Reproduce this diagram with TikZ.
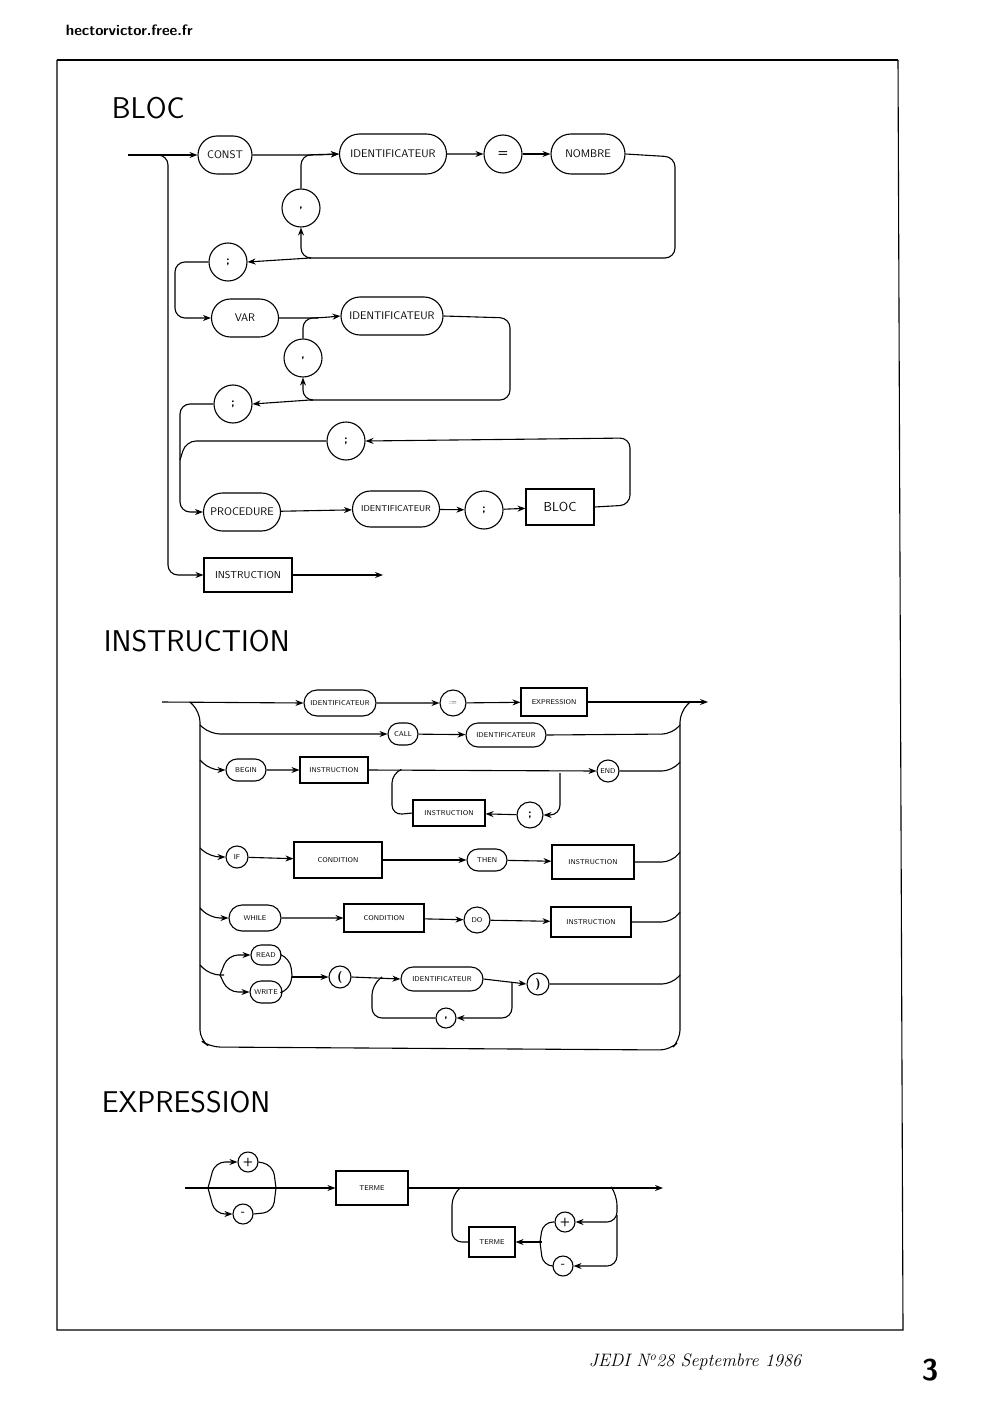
\documentclass[tikz,border=0pt]{standalone}
\usetikzlibrary{shapes.misc,arrows.meta}
\begin{document}
\begin{tikzpicture}[x=1pt,y=-1pt,line width=1.1pt,
 rr/.style={draw,rounded rectangle,minimum height=#1,inner xsep=4pt,font=\sffamily\fontsize{11}{11}\selectfont},
 rr/.default=38,
 bx/.style={draw,rectangle,minimum height=#1,inner xsep=5pt,font=\sffamily\fontsize{10}{10}\selectfont},
 bx/.default=34,
 ci/.style={draw,circle,minimum size=#1,inner sep=0pt,font=\sffamily\bfseries\fontsize{12}{12}\selectfont},
 ci/.default=38,
 ar/.style={-{Stealth[length=8pt,width=6pt]}},
 rc/.style={rounded corners=10pt},
 ttl/.style={anchor=west,font=\sffamily\fontsize{30}{30}\selectfont}]
\useasboundingbox (0,0) rectangle (981,1404);
\fill[white] (0,0) rectangle (981,1404);
\node[anchor=west,font=\sffamily\bfseries\fontsize{15}{15}\selectfont] (hdr) at (62,30) {hectorvictor.free.fr};
\draw[line width=2.5pt] (57,60) -- (898,60);
\draw (57,60) -- (57,1330) -- (903,1330) -- (898,60);
\node[anchor=west,font=\rmfamily\itshape\fontsize{18}{18}\selectfont] (ftr) at (585,1362) {JEDI N\textsuperscript{o}28 Septembre 1986};
\node[font=\sffamily\bfseries\fontsize{30}{30}\selectfont] (pg) at (930,1370) {3};

% ---------------- BLOC
\node[ttl] (t1) at (108,108) {BLOC};
\node[rr,minimum width=62] (const) at (225,155) {CONST};
\node[rr=40,minimum width=115] (id1) at (393,154) {IDENTIFICATEUR};
\node[ci] (eq) at (503,154) {=};
\node[rr=40,minimum width=82] (nomb) at (588,154) {NOMBRE};
\node[ci] (c1) at (301,208) {,};
\node[ci] (s1) at (228,262) {;};
\coordinate (start) at (128,155);
\draw[ar] (start) -- (const);
\draw[ar,rc] (const.east) -- (318,155) -- (id1.west);
\draw[ar] (id1) -- (eq);
\draw[ar] (eq) -- (nomb);
\draw[rc] (nomb.east) -- (675,157) -- (675,258) -- (310,258);
\draw[ar] (310,258) -- (s1.east);
\draw[ar,rc] (310,258) -- (301,258) -- (c1.south) ;
\draw[ar,rc] (c1.north) -- (301,155) -- (id1.west);

\node[rr,minimum width=75] (var) at (245,318) {VAR};
\node[rr,minimum width=110] (id2) at (392,316) {IDENTIFICATEUR};
\node[ci] (c2) at (303,358) {,};
\node[ci] (s2) at (233,404) {;};
\draw[ar,rc] (s1.west) -- (175,262) -- (175,318) -- (var.west);
\draw[ar,rc] (var.east) -- (318,318) -- (id2.west);
\draw[rc] (id2.east) -- (510,318) -- (510,400) -- (310,400);
\draw[ar] (310,400) -- (s2.east);
\draw[ar,rc] (310,400) -- (303,400) -- (c2.south);
\draw[rc] (c2.north) -- (303,318) -- (318,318);

\node[ci] (s3) at (346,441) {;};
\node[rr,minimum width=85] (proc) at (242,512) {PROCEDURE};
\node[rr=36,minimum width=95,font=\sffamily\fontsize{8.5}{8.5}\selectfont] (id3) at (396,509) {IDENTIFICATEUR};
\node[ci] (s4) at (484,510) {;};
\node[bx=36,minimum width=68,font=\sffamily\fontsize{13}{13}\selectfont] (bloc) at (560,507) {BLOC};
\draw[ar,rc] (s2.west) -- (180,404) -- (180,512) -- (proc.west);
\draw[ar] (proc) -- (id3);
\draw[ar] (id3) -- (s4);
\draw[ar] (s4) -- (bloc);
\draw[ar,rc] (bloc.east) -- (630,505) -- (630,438) -- (s3.east);
\draw[rc] (s3.west) -- (186,441) -- (180,460);

\node[bx,minimum width=88] (ins0) at (248,575) {INSTRUCTION};
\coordinate (e1) at (383,575);
\draw[ar,rc] (150,155) -- (168,155) -- (168,575) -- (ins0.west);
\draw[ar] (ins0) -- (e1);

% ---------------- INSTRUCTION
\node[ttl] (t2) at (100,641) {INSTRUCTION};
\tikzset{sm/.style={font=\sffamily\fontsize{7}{7}\selectfont}}
\node[rr=26,minimum width=80,sm] (i1) at (340,703) {IDENTIFICATEUR};
\node[ci=26,sm] (as) at (453,703) {:=};
\node[bx=28,minimum width=66,sm] (ex) at (554,702) {EXPRESSION};
\coordinate (s0) at (162,702);
\coordinate (e0) at (708,702);
\draw[ar] (s0) -- (i1.west);
\draw[ar] (i1) -- (as);
\draw[ar] (as) -- (ex);
\draw[ar] (ex.east) -- (e0);
% verticals
\draw[rc] (190,702) -- (200,712) -- (200,1040) -- (210,1047) -- (670,1050) -- (680,1040) -- (680,712) -- (690,702);

\node[rr=22,minimum width=38,sm] (call) at (403,734) {CALL};
\node[rr=24,minimum width=88,sm] (i2) at (506,735) {IDENTIFICATEUR};
\draw[ar,rc] (200,725) -- (210,734) -- (call.west);
\draw[ar] (call) -- (i2);
\draw[rc] (i2.east) -- (672,734) -- (680,725);

\node[rr=22,minimum width=48,sm] (beg) at (246,770) {BEGIN};
\node[bx=26,minimum width=68,sm] (i3) at (334,770) {INSTRUCTION};
\node[ci=22,sm] (endn) at (608,771) {END};
\node[bx=26,minimum width=72,sm] (i4) at (449,813) {INSTRUCTION};
\node[ci=26] (s5) at (530,815) {;};
\draw[ar,rc] (200,760) -- (210,770) -- (beg.west);
\draw[ar] (beg) -- (i3);
\draw[ar] (i3.east) -- (endn.west);
\draw[rc] (endn.east) -- (672,771) -- (680,762);
\draw[ar,rc] (560,773) -- (560,815) -- (s5.east);
\draw[ar] (s5) -- (i4);
\draw[rc] (i4.west) -- (392,815) -- (392,773) -- (400,770);

\node[ci=22,sm] (if) at (237,857) {IF};
\node[bx=36,minimum width=88,sm] (cond1) at (338,860) {CONDITION};
\node[rr=22,minimum width=48,sm] (then) at (487,860) {THEN};
\node[bx=34,minimum width=82,sm] (i5) at (593,862) {INSTRUCTION};
\draw[ar,rc] (200,848) -- (210,857) -- (if.west);
\draw[ar] (if) -- (cond1);
\draw[ar] (cond1) -- (then);
\draw[ar] (then) -- (i5);
\draw[rc] (i5.east) -- (672,862) -- (680,852);

\node[rr=26,minimum width=60,sm] (wh) at (255,918) {WHILE};
\node[bx=28,minimum width=80,sm] (cond2) at (384,918) {CONDITION};
\node[ci=26,sm] (do) at (477,920) {DO};
\node[bx=30,minimum width=80,sm] (i6) at (591,922) {INSTRUCTION};
\draw[ar,rc] (200,908) -- (210,918) -- (wh.west);
\draw[ar] (wh) -- (cond2);
\draw[ar] (cond2) -- (do);
\draw[ar] (do) -- (i6);
\draw[rc] (i6.east) -- (672,922) -- (680,912);

\node[rr=20,minimum width=38,sm] (rd) at (266,955) {READ};
\node[rr=22,minimum width=40,sm] (wr) at (266,992) {WRITE};
\node[ci=22] (lp) at (340,977) {(};
\node[rr=24,minimum width=90,sm] (i7) at (442,979) {IDENTIFICATEUR};
\node[ci=22] (rp) at (538,984) {)};
\node[ci=20] (c3) at (446,1018) {,};
\draw[rc] (200,965) -- (210,975) -- (224,975);
\draw[ar,rc] (220,975) -- (228,955) -- (rd.west);
\draw[ar,rc] (220,975) -- (228,992) -- (wr.west);
\draw[rc] (rd.east) -- (290,958) -- (292,975);
\draw[rc] (wr.east) -- (290,990) -- (292,975);
\draw[ar] (292,977) -- (lp.west);
\draw[ar] (lp.east) -- (i7.west);
\draw[ar] (i7.east) -- (rp.west);
\draw[rc] (rp.east) -- (672,984) -- (680,975);
\draw[ar,rc] (512,982) -- (512,1018) -- (c3.east);
\draw[rc] (c3.west) -- (372,1018) -- (372,985) -- (382,977);

% ---------------- EXPRESSION
\node[ttl] (t3) at (98,1102) {EXPRESSION};
\node[ci=20] (p1) at (248,1162) {+};
\node[ci=20] (m1) at (243,1214) {-};
\node[bx=34,minimum width=72,sm] (te1) at (372,1188) {TERME};
\coordinate (xs) at (185,1188);
\coordinate (xe) at (663,1188);
\draw[ar] (xs) -- (te1.west);
\draw[ar,rc] (208,1188) -- (215,1162) -- (p1.west);
\draw[ar,rc] (208,1188) -- (215,1214) -- (m1.west);
\draw[rc] (p1.east) -- (273,1165) -- (276,1188);
\draw[rc] (m1.east) -- (273,1212) -- (276,1188);
\draw[ar] (te1.east) -- (xe);
\node[ci=20] (p2) at (565,1222) {+};
\node[ci=20] (m2) at (563,1266) {-};
\node[bx=30,minimum width=46,sm] (te2) at (492,1242) {TERME};
\draw[ar,rc] (612,1188) -- (617,1195) -- (617,1222) -- (p2.east);
\draw[ar,rc] (617,1215) -- (617,1266) -- (m2.east);
\draw[rc] (p2.west) -- (543,1222) -- (540,1242);
\draw[rc] (m2.west) -- (543,1266) -- (540,1242);
\draw[ar] (542,1242) -- (te2.east);
\draw[rc] (te2.west) -- (452,1242) -- (452,1195) -- (460,1188);
\end{tikzpicture}
\end{document}
